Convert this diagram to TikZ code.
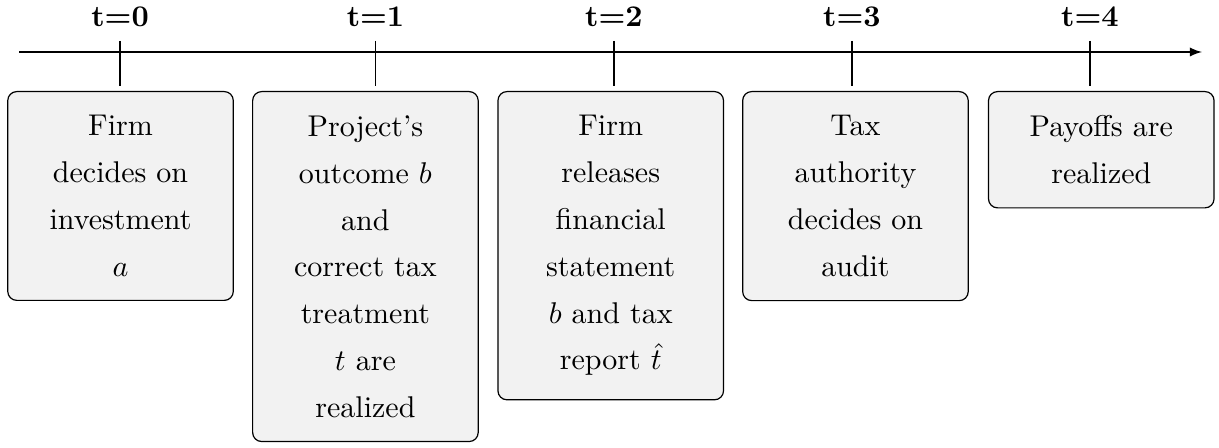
\documentclass[tikz,border=0pt]{standalone}
\usetikzlibrary{positioning}

\tikzset{
  event/.style={draw, fill=gray!10, rounded corners=3pt, anchor=north,
    text width=2.08cm, inner sep=8pt, align=center,
    font=\linespread{1.3}\selectfont},
  tlabel/.style={font=\bfseries}
}

\begin{document}
\begin{tikzpicture}
  \useasboundingbox (0,0.609) rectangle (14.281,-4.639);

  % Time axis
  \coordinate (start) at (0.223,0);
  \coordinate (end) at (14.081,0);
  \draw[-latex] (start) -- (end);

  % Ticks
  \coordinate (t0) at (1.406,0);
  \coordinate (t1) at (4.399,0);
  \coordinate (t2) at (7.193,0);
  \coordinate (t3) at (9.981,0);
  \coordinate (t4) at (12.769,0);
  \draw ([yshift=0.129cm]t0) -- ([yshift=-0.398cm]t0);
  \draw ([yshift=0.129cm]t1) -- ([yshift=-0.398cm]t1);
  \draw ([yshift=0.129cm]t2) -- ([yshift=-0.398cm]t2);
  \draw ([yshift=0.129cm]t3) -- ([yshift=-0.398cm]t3);
  \draw ([yshift=0.129cm]t4) -- ([yshift=-0.398cm]t4);

  % Labels
  \node[tlabel] (l0) at (1.406,0.41) {t=0};
  \node[tlabel] (l1) at (4.399,0.41) {t=1};
  \node[tlabel] (l2) at (7.193,0.41) {t=2};
  \node[tlabel] (l3) at (9.981,0.41) {t=3};
  \node[tlabel] (l4) at (12.769,0.41) {t=4};

  % Events
  \node[event] (invest) at (1.412,-0.457) {Firm\\decides on\\investment\\$a$};
  \node[event] (outcome) at (4.281,-0.457) {Project's\\outcome $b$\\and\\correct tax\\treatment\\$t$ are\\realized};
  \node[event] (report) at (7.155,-0.457) {Firm\\releases\\financial\\statement\\$b$ and tax\\report $\hat{t}$};
  \node[event] (audit) at (10.022,-0.457) {Tax\\authority\\decides on\\audit};
  \node[event] (payoff) at (12.902,-0.457) {Payoffs are\\realized};

\end{tikzpicture}
\end{document}
